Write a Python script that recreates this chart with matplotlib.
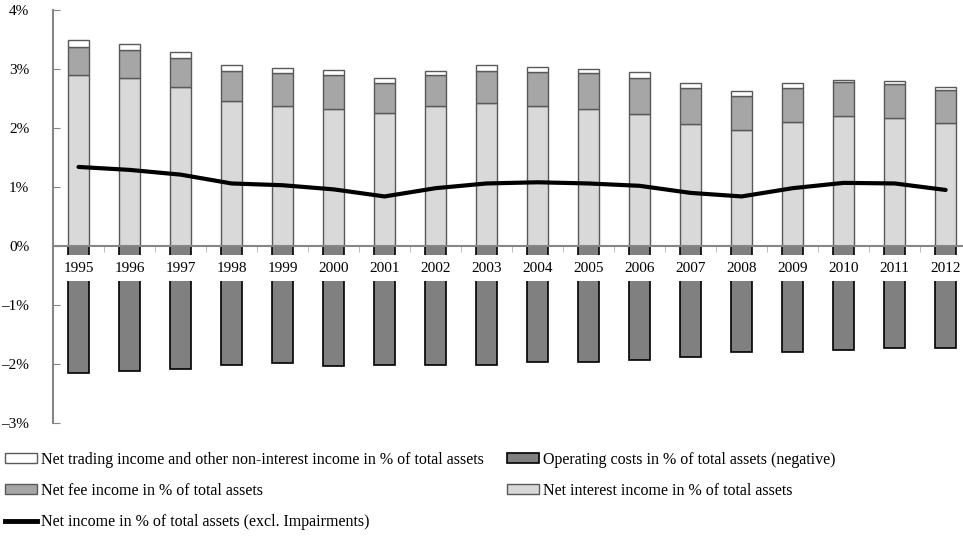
import numpy as np
import matplotlib
matplotlib.use("Agg")
import matplotlib.pyplot as plt
from matplotlib.patches import Patch
from matplotlib.lines import Line2D

plt.rcParams['font.family'] = ['Liberation Serif', 'DejaVu Serif']

# data (% of total assets)
years = [str(y) for y in range(1995, 2013)]
interest_income = [2.90, 2.84, 2.69, 2.46, 2.38, 2.32, 2.25, 2.38, 2.42,
                   2.37, 2.33, 2.24, 2.06, 1.96, 2.11, 2.20, 2.17, 2.08]
fee_income = [0.48, 0.48, 0.49, 0.51, 0.55, 0.58, 0.52, 0.51, 0.55,
              0.58, 0.60, 0.61, 0.62, 0.58, 0.56, 0.58, 0.57, 0.56]
trading_income = [0.12, 0.10, 0.10, 0.09, 0.09, 0.08, 0.07, 0.07, 0.10,
                  0.09, 0.07, 0.10, 0.09, 0.08, 0.09, 0.04, 0.05, 0.05]
operating_costs = [-2.16, -2.12, -2.08, -2.01, -1.99, -2.03, -2.02, -2.01, -2.02,
                   -1.97, -1.97, -1.93, -1.88, -1.79, -1.80, -1.76, -1.73, -1.73]
net_income = [1.34, 1.29, 1.21, 1.06, 1.03, 0.96, 0.84, 0.98, 1.06,
              1.08, 1.06, 1.02, 0.90, 0.84, 0.98, 1.07, 1.06, 0.95]

lbl_trading = 'Net trading income and other non-interest income in % of total assets'
lbl_costs = 'Operating costs in % of total assets (negative)'
lbl_fee = 'Net fee income in % of total assets'
lbl_interest = 'Net interest income in % of total assets'
lbl_net = 'Net income in % of total assets (excl. Impairments)'

c_interest = '#d9d9d9'
c_fee = '#a6a6a6'
c_trading = '#ffffff'
c_costs = '#808080'
c_edge = '#595959'
c_axis = '#868686'

x = np.arange(len(years))
w = 0.41
interest = np.array(interest_income)
fee = np.array(fee_income)

fig = plt.figure(figsize=(9.63, 5.37), dpi=100)
ax = fig.add_axes([53 / 963, 114 / 537, 910 / 963, 413 / 537])

ax.bar(x, interest, w, color=c_interest, edgecolor=c_edge, linewidth=1, zorder=1)
ax.bar(x, fee, w, bottom=interest, color=c_fee, edgecolor=c_edge, linewidth=1, zorder=1)
ax.bar(x, trading_income, w, bottom=interest + fee, color=c_trading, edgecolor=c_edge,
       linewidth=1, zorder=1)
ax.bar(x, operating_costs, w, color=c_costs, edgecolor='black', linewidth=1.2, zorder=1)
ax.plot(x, net_income, color='black', lw=3, solid_capstyle='round', zorder=6)

ax.set_xlim(-0.5, 17.34)
ax.set_ylim(-3, 4)
ax.set_yticks(range(-3, 5))
ax.set_yticklabels([f'{v}%'.replace('-', '–') for v in range(-3, 5)], fontsize=11)
ax.tick_params(axis='y', direction='in', length=5, color=c_axis, pad=17)

# year labels sit on a white box that cuts through the cost bars
ax.set_xticks(x)
ax.set_xticklabels([])
ax.set_xticks(x[:-1] + 0.5, minor=True)
ax.tick_params(axis='x', which='major', length=0)
ax.tick_params(axis='x', which='minor', length=4, direction='out', color='#b0b0b0')
for i, yr in enumerate(years):
    ax.annotate(yr, (x[i], 0), xytext=(0, -22), textcoords='offset pixels',
                ha='center', va='center', fontsize=11, zorder=4,
                bbox=dict(facecolor='white', edgecolor='none', pad=4.5))

for s in ['top', 'right']:
    ax.spines[s].set_visible(False)
ax.spines['bottom'].set_position(('data', 0))
ax.spines['bottom'].set_color(c_axis)
ax.spines['bottom'].set_linewidth(1.5)
ax.spines['left'].set_color(c_axis)
ax.spines['left'].set_linewidth(1.5)
ax.spines['bottom'].set_zorder(5)

# legend laid out row by row like the original
entries = [
    (Patch(facecolor=c_trading, edgecolor=c_edge), lbl_trading, 5, 460),
    (Patch(facecolor=c_costs, edgecolor='black', linewidth=1.2), lbl_costs, 507, 460),
    (Patch(facecolor=c_fee, edgecolor=c_edge), lbl_fee, 5, 491),
    (Patch(facecolor=c_interest, edgecolor=c_edge), lbl_interest, 507, 491),
    (Line2D([], [], color='black', lw=3.5), lbl_net, 5, 522),
]
for h, lab, px, py in entries:
    fig.legend([h], [lab], loc='center left', bbox_to_anchor=(px / 963, 1 - py / 537),
               frameon=False, fontsize=11.5, handlelength=2.0, handleheight=0.57,
               handletextpad=0.25, borderpad=0, borderaxespad=0)

fig.savefig('out.png', dpi=100)
